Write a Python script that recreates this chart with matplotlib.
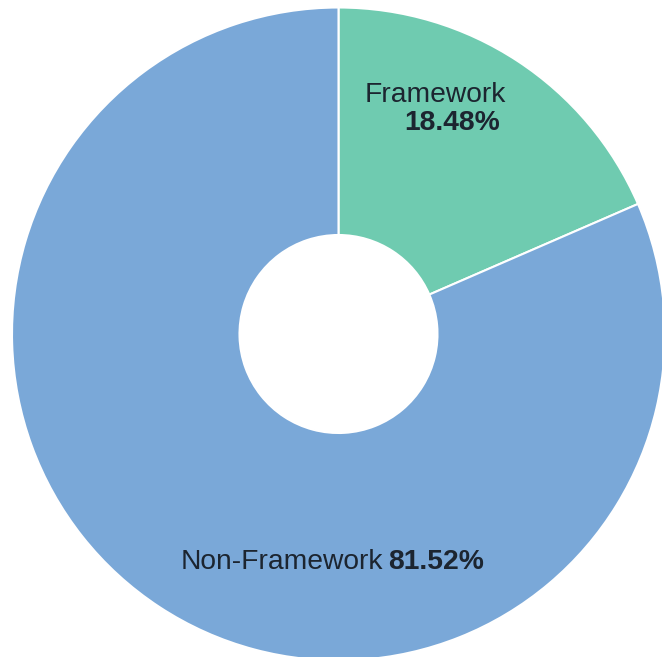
import matplotlib.pyplot as plt

plt.rcParams['font.family'] = ['Liberation Sans', 'DejaVu Sans']

labels = ['Framework', 'Non-Framework']
shares = [18.48, 81.52]
colors = ['#6fcbb0', '#7aa8d8']

W, H = 662, 657
fig = plt.figure(figsize=(W / 100, H / 100), dpi=100)
ax = fig.add_axes([0, 0, 1, 1])

# donut: outer radius ~326 px, hole ~99 px
cx, cy = 338.5, H - 334
R = 326.5
ax.pie(shares, colors=colors, startangle=90, counterclock=False,
       center=(cx, cy), radius=R, frame=True,
       wedgeprops=dict(width=R - 99, edgecolor='white', linewidth=1.5))
ax.set_xlim(0, W)
ax.set_ylim(0, H)
ax.set_aspect('equal')
ax.axis('off')

txt = '#1c2530'
fs = 20.3
ax.text(435, H - 102, labels[0], ha='center', va='baseline',
        fontsize=fs, color=txt)
ax.text(404, H - 130, f'{shares[0]:.2f}%', ha='left', va='baseline',
        fontsize=fs, fontweight='bold', color=txt)
ax.text(383, H - 569, labels[1], ha='right', va='baseline',
        fontsize=fs, color=txt)
ax.text(388, H - 569, f'{shares[1]:.2f}%', ha='left', va='baseline',
        fontsize=fs, fontweight='bold', color=txt)

fig.savefig('out.png', dpi=100)
